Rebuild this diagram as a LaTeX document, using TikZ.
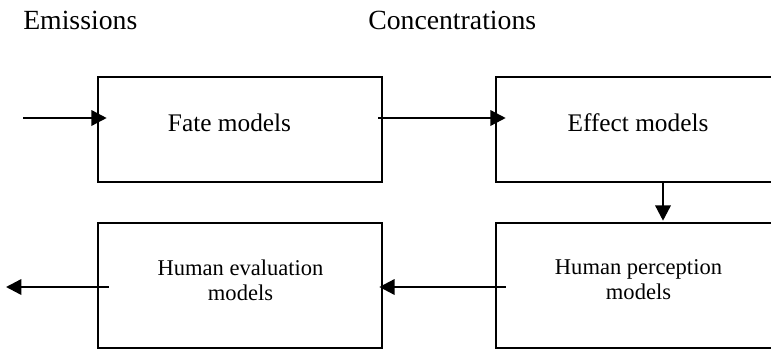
\documentclass[tikz,border=0pt]{standalone}
\usepackage{fontspec}
\setmainfont{Liberation Serif}
\usetikzlibrary{arrows.meta}

\begin{document}
\begin{tikzpicture}[x=0.75pt,y=-0.75pt]
\tikzset{
  modelbox/.style={draw=black,line width=1.9pt,inner sep=0pt,minimum width=213pt},
  toprow/.style={modelbox,minimum height=78.75pt},
  lowrow/.style={modelbox,minimum height=93.75pt},
  flow/.style={line width=1.8pt,-{Triangle[length=11.5pt,width=11.5pt]}},
  heading/.style={inner sep=0pt,anchor=base west,font=\fontsize{20.8}{25}\selectfont},
  toptext/.style={inner sep=0pt,anchor=base,font=\fontsize{19}{23}\selectfont},
  lowtext/.style={inner sep=0pt,align=center,font=\fontsize{16.9}{18.8}\selectfont}
}
\useasboundingbox (0,0) rectangle (771,350);
\clip (0,0) rectangle (771,350);

% headings
\node[heading] (emis) at (23,29) {Emissions};
\node[heading] (conc) at (368,29) {Concentrations};

% boxes
\node[toprow] (fate) at (240,129.5) {};
\node[toprow] (effect) at (638,129.5) {};
\node[lowrow] (evaluation) at (240,285.5) {};
\node[lowrow] (perception) at (638,285.5) {};

\node[toptext] (fatetxt) at (229.5,131) {Fate models};
\node[toptext] (effecttxt) at (638,131) {Effect models};
\node[lowtext] (evaltxt) at (240.5,280) {Human evaluation\\models};
\node[lowtext] (perctxt) at (638.5,280) {Human perception\\models};

% flows
\coordinate (in) at (23,118);
\coordinate (out) at (6,287);
\draw[flow] (in) -- ([xshift=7.5pt]in -| fate.west);
\draw[flow] ([xshift=-3.75pt]in -| fate.east) -- ([xshift=8.25pt]in -| effect.west);
\draw[flow] ([xshift=18.75pt]effect.south) -- ([xshift=18.75pt,yshift=0.75pt]perception.north);
\draw[flow] ([xshift=8.25pt]out -| perception.west) -- ([xshift=-3pt]out -| evaluation.east);
\draw[flow] ([xshift=9pt]out -| evaluation.west) -- (out);
\end{tikzpicture}
\end{document}
